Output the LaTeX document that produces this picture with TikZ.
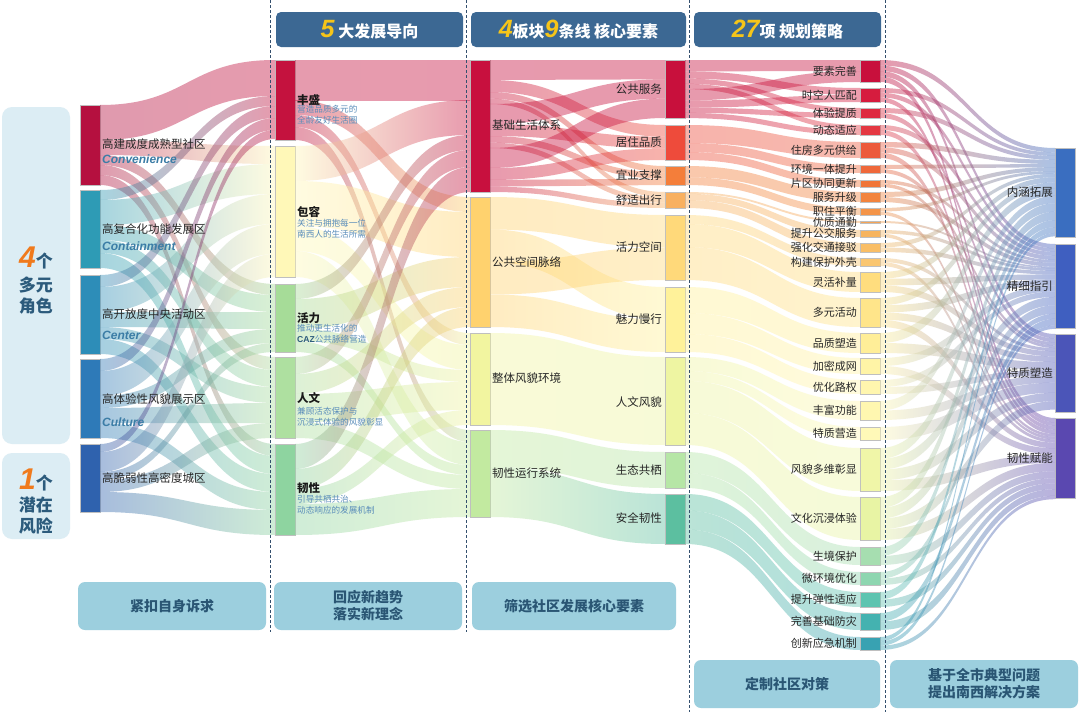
\documentclass[tikz,border=0pt]{standalone}
\usepackage{fontspec}
\setmainfont{Noto Sans CJK SC}
\newfontfamily\latinfont{Liberation Sans}
\usetikzlibrary{calc}

% general colours
\definecolor{headblue}{HTML}{3C6893}
\definecolor{boxblue}{HTML}{DCEDF4}
\definecolor{footblue}{HTML}{9CCFDE}
\definecolor{foottext}{HTML}{2A5674}
\definecolor{numyellow}{HTML}{F6C519}
\definecolor{numorange}{HTML}{F07A1C}
\definecolor{roletext}{HTML}{2C5B7C}
\definecolor{engblue}{HTML}{3C7DA6}
\definecolor{descblue}{HTML}{5A8DBA}
\definecolor{dashcol}{HTML}{34506E}

% roles
\definecolor{cA1}{HTML}{B5103F}
\definecolor{cA2}{HTML}{2E9BB5}
\definecolor{cA3}{HTML}{2D8DB8}
\definecolor{cA4}{HTML}{2E7AB8}
\definecolor{cA5}{HTML}{2F62AE}
% orientations
\definecolor{cB1}{HTML}{C4123E}
\definecolor{cB2}{HTML}{FFF8B8}
\definecolor{cB3}{HTML}{A6DC98}
\definecolor{cB4}{HTML}{AEE0A0}
\definecolor{cB5}{HTML}{8ED4A0}
% blocks
\definecolor{cC1}{HTML}{C8103E}
\definecolor{cC2}{HTML}{FFD26E}
\definecolor{cC3}{HTML}{F2F5A0}
\definecolor{cC4}{HTML}{C2EAA0}
% lines
\definecolor{cD1}{HTML}{C8103C}
\definecolor{cD2}{HTML}{EE4B3B}
\definecolor{cD3}{HTML}{F47E3A}
\definecolor{cD4}{HTML}{F8B060}
\definecolor{cD5}{HTML}{FFD97A}
\definecolor{cD6}{HTML}{FFF29A}
\definecolor{cD7}{HTML}{EEF5A2}
\definecolor{cD8}{HTML}{B6E6A6}
\definecolor{cD9}{HTML}{5CBFA0}
% strategies
\definecolor{cE1}{HTML}{C8103C}
\definecolor{cE2}{HTML}{D61C3E}
\definecolor{cE3}{HTML}{DE2A40}
\definecolor{cE4}{HTML}{E43842}
\definecolor{cE5}{HTML}{EC5A3C}
\definecolor{cE6}{HTML}{EF683A}
\definecolor{cE7}{HTML}{F07538}
\definecolor{cE8}{HTML}{F2843E}
\definecolor{cE9}{HTML}{F49448}
\definecolor{cE10}{HTML}{F5A456}
\definecolor{cE11}{HTML}{F7B45E}
\definecolor{cE12}{HTML}{F9BE66}
\definecolor{cE13}{HTML}{FAC670}
\definecolor{cE14}{HTML}{FFDD7E}
\definecolor{cE15}{HTML}{FFE58A}
\definecolor{cE16}{HTML}{FFEE98}
\definecolor{cE17}{HTML}{FFF4A6}
\definecolor{cE18}{HTML}{FFF6AE}
\definecolor{cE19}{HTML}{FFF7B0}
\definecolor{cE20}{HTML}{FFF9B8}
\definecolor{cE21}{HTML}{F0F6A8}
\definecolor{cE22}{HTML}{E8F4A4}
\definecolor{cE23}{HTML}{A6DEB0}
\definecolor{cE24}{HTML}{8ED6B0}
\definecolor{cE25}{HTML}{5EC4B0}
\definecolor{cE26}{HTML}{44B2B0}
\definecolor{cE27}{HTML}{38A2B2}
% problems
\definecolor{cF1}{HTML}{3A6EC0}
\definecolor{cF2}{HTML}{3F5FC0}
\definecolor{cF3}{HTML}{4B55B8}
\definecolor{cF4}{HTML}{5A48B0}

\newcommand\bignum[1]{{\latinfont\bfseries\itshape\fontsize{25}{25}\selectfont\color{numyellow}#1}}

% band from node #1 to node #2, width #3 at the source and #4 at the target
\newcommand\sflow[4]{%
  \ifcsname so#1\endcsname\else\expandafter\gdef\csname so#1\endcsname{0}\fi
  \ifcsname ti#2\endcsname\else\expandafter\gdef\csname ti#2\endcsname{0}\fi
  \pgfmathsetmacro\wsa{\csname so#1\endcsname}%
  \pgfmathsetmacro\wsb{\wsa+#3}%
  \pgfmathsetmacro\wta{\csname ti#2\endcsname}%
  \pgfmathsetmacro\wtb{\wta+#4}%
  \expandafter\xdef\csname so#1\endcsname{\wsb}%
  \expandafter\xdef\csname ti#2\endcsname{\wtb}%
  \path ([yshift=-\wsa pt]#1.north east) coordinate (p1)
        ([yshift=-\wsb pt]#1.north east) coordinate (p2)
        ([yshift=-\wta pt]#2.north west) coordinate (q1)
        ([yshift=-\wtb pt]#2.north west) coordinate (q2)
        ($(p1)!.5!(q1)$) coordinate (m);
  \shade[left color=c#1, right color=c#2, opacity=.42]
    (p1) .. controls (m |- p1) and (m |- q1) .. (q1) -- (q2)
    .. controls (m |- q2) and (m |- p2) .. (p2) -- cycle;
}

\begin{document}
\begin{tikzpicture}[x=1pt, y=-1pt,
    bar/.style={draw=black!25, line width=.4pt, minimum width=20pt,
        inner sep=0pt, outer sep=0pt, anchor=north west},
    lbl/.style={inner sep=0pt, text=black!85, font=\fontsize{11.5}{13}\selectfont},
    slbl/.style={inner sep=0pt, text=black!85, font=\fontsize{11}{12}\selectfont, anchor=east},
    ttl/.style={inner sep=0pt, anchor=west, text=black!90, font=\bfseries\fontsize{11.5}{13}\selectfont},
    desc/.style={inner sep=0pt, anchor=north west, align=left, text=descblue,
        font=\fontsize{8.6}{11}\selectfont},
    eng/.style={inner sep=0pt, anchor=west, text=engblue,
        font=\latinfont\bfseries\itshape\fontsize{12}{13}\selectfont},
    head/.style={fill=headblue, rounded corners=5pt, minimum height=35pt, inner sep=0pt,
        text=white, font=\bfseries\fontsize{16}{18}\selectfont},
    foot/.style={fill=footblue, rounded corners=7pt, minimum height=48pt, inner sep=0pt,
        align=center, text=foottext, font=\bfseries\fontsize{14}{17}\selectfont},
    rolebox/.style={fill=boxblue, rounded corners=10pt, minimum width=68pt, inner sep=0pt},
    roletxt/.style={inner sep=0pt, align=center, text=roletext,
        font=\bfseries\fontsize{17}{21}\selectfont},
    dashline/.style={dashcol, dashed, dash pattern=on 3pt off 2pt, line width=.8pt}]

\fill[white] (0,0) rectangle (1080,712);
\useasboundingbox (0,0) rectangle (1080,712);

% bars
\foreach \n/\y/\h in {A1/105/80, A2/190/78, A3/275/79, A4/359/79, A5/444/68}
  \node[bar, fill=c\n, minimum height=\h] (\n) at (80,\y) {};
\foreach \n/\y/\h in {B1/60/80, B2/146/131, B3/284/68, B4/357/81, B5/444/91}
  \node[bar, fill=c\n, minimum height=\h] (\n) at (275,\y) {};
\foreach \n/\y/\h in {C1/60/132, C2/197/130, C3/333/92, C4/430/87}
  \node[bar, fill=c\n, minimum height=\h] (\n) at (470,\y) {};
\foreach \n/\y/\h in {D1/60/58, D2/125/35, D3/166/19, D4/192/16, D5/215/65,
    D6/287/65, D7/357/88, D8/452/36, D9/494/50}
  \node[bar, fill=c\n, minimum height=\h] (\n) at (665,\y) {};
\foreach \n/\y/\h in {E1/60/22, E2/88/14, E3/108/10, E4/125/10, E5/142/16, E6/165/8,
    E7/180/7, E8/192/10, E9/208/7, E10/221/2, E11/230/7, E12/243/9, E13/258/8,
    E14/272/20, E15/298/29, E16/333/20, E17/358/16, E18/380/14, E19/401/19,
    E20/427/13, E21/448/43, E22/497/43, E23/547/18, E24/572/13, E25/592/15,
    E26/613/17, E27/637/13}
  \node[bar, fill=c\n, minimum height=\h] (\n) at (860,\y) {};
\foreach \n/\y/\h in {F1/148/89, F2/244/84, F3/334/78, F4/418/80}
  \node[bar, fill=c\n, minimum height=\h] (\n) at (1055,\y) {};

% roles -> orientations
\foreach \sn/\tn/\ws/\wt in {A1/B1/35/36, A1/B2/15/18, A1/B3/10/11, A1/B4/10/13, A1/B5/10/12,
    A2/B1/10/10, A2/B2/25/30, A2/B3/15/17, A2/B4/13/17, A2/B5/15/18,
    A3/B1/12/12, A3/B2/25/30, A3/B3/15/17, A3/B4/12/16, A3/B5/15/18,
    A4/B1/12/12, A4/B2/25/30, A4/B3/12/14, A4/B4/15/20, A4/B5/15/18,
    A5/B1/8/9, A5/B2/20/23, A5/B3/8/9, A5/B4/12/15, A5/B5/20/25}
  {\sflow{\sn}{\tn}{\ws}{\wt}}

% orientations -> blocks
\foreach \sn/\tn/\ws/\wt in {B1/C1/40/40, B1/C2/15/15, B1/C3/12/12, B1/C4/13/12,
    B2/C1/35/35, B2/C2/45/45, B2/C3/25/25, B2/C4/26/23,
    B3/C1/15/15, B3/C2/30/30, B3/C3/12/12, B3/C4/11/10,
    B4/C1/17/17, B4/C2/20/20, B4/C3/28/28, B4/C4/16/14,
    B5/C1/25/25, B5/C2/20/20, B5/C3/15/15, B5/C4/31/28}
  {\sflow{\sn}{\tn}{\ws}{\wt}}

% blocks -> lines
\foreach \k in {1,2,3}
  {\foreach \tn/\ws/\wt in {D1/20/19.33, D2/12/11.67, D3/6.67/6.33, D4/5.33/5.33}
    {\sflow{C1}{\tn}{\ws}{\wt}}}
\foreach \k in {1,2}
  {\foreach \tn/\ws/\wt in {D5/32.5/32.5, D6/32.5/32.5}
    {\sflow{C2}{\tn}{\ws}{\wt}}}
\foreach \sn/\tn/\ws/\wt in {C3/D7/92/88, C4/D8/37/36, C4/D9/50/50}
  {\sflow{\sn}{\tn}{\ws}{\wt}}

% lines -> strategies
\foreach \k in {1,2}
  {\foreach \tn/\ws/\wt in {E1/11.4/11, E2/7.25/7, E3/5.2/5, E4/5.2/5}
    {\sflow{D1}{\tn}{\ws}{\wt}}}
\foreach \sn/\tn/\ws/\wt in {D2/E5/18/16, D2/E6/9/8, D2/E7/8/7,
    D3/E8/11.2/10, D3/E9/7.8/7, D4/E10/1.8/2, D4/E11/6.2/7, D4/E12/8/9,
    D5/E13/9/8, D5/E14/23/20, D5/E15/33/29, D6/E16/26/20, D6/E17/21/16, D6/E18/18/14,
    D7/E19/14/19, D7/E20/10/13, D7/E21/32/43, D7/E22/32/43,
    D8/E23/21/18, D8/E24/15/13, D9/E25/16.5/15, D9/E26/19/17, D9/E27/14.5/13}
  {\sflow{\sn}{\tn}{\ws}{\wt}}

% strategies -> city-wide problems
\foreach \sn/\hh/\nn/\tgts in {E1/22/4/{F1,F2,F3,F4}, E2/14/3/{F1,F2,F4}, E3/10/2/{F1,F3},
    E4/10/2/{F2,F4}, E5/16/3/{F1,F2,F4}, E6/8/2/{F1,F3}, E7/7/2/{F2,F3},
    E8/10/2/{F1,F2}, E9/7/2/{F1,F4}, E10/2/1/{F2}, E11/7/2/{F2,F4},
    E12/9/2/{F1,F2}, E13/8/2/{F3,F4}, E14/20/3/{F1,F2,F3}, E15/29/4/{F1,F2,F3,F4},
    E16/20/2/{F1,F3}, E17/16/2/{F2,F4}, E18/14/2/{F2,F3}, E19/19/2/{F1,F3},
    E20/13/1/{F3}, E21/43/4/{F1,F2,F3,F4}, E22/43/4/{F1,F2,F3,F4},
    E23/18/2/{F1,F4}, E24/13/2/{F2,F4}, E25/15/2/{F1,F4}, E26/17/2/{F2,F4},
    E27/13/3/{F1,F2,F4}}
  {\foreach \tn in \tgts {\sflow{\sn}{\tn}{\hh/\nn}{.78*\hh/\nn}}}

% column separators
\draw[dashline] (270,0) -- (270,632);
\draw[dashline] (466,0) -- (466,632);
\draw[dashline] (689,0) -- (689,712);
\draw[dashline] (885,0) -- (885,712);

% headers
\node[head, minimum width=187pt] (h1) at (369.5,29.5) {\bignum{5}\ 大发展导向};
\node[head, minimum width=215pt] (h2) at (578.5,29.5) {\bignum{4}板块\bignum{9}条线\ 核心要素};
\node[head, minimum width=187pt] (h3) at (787.5,29.5) {\bignum{27}项\ 规划策略};

% role boxes
\node[rolebox, minimum height=337pt] (roles) at (36,275.5) {};
\node[rolebox, minimum height=86pt] (risks) at (36,496) {};
\node[roletxt] (r4) at (36,258) {{\latinfont\itshape\fontsize{30}{30}\selectfont\color{numorange}4}个};
\node[roletxt] (r4b) at (36,296) {多元\\角色};
\node[roletxt] (r1) at (36,480) {{\latinfont\itshape\fontsize{30}{30}\selectfont\color{numorange}1}个};
\node[roletxt] (r1b) at (36,516) {潜在\\风险};

% role labels
\node[lbl, anchor=west] (A1-t) at (102,144) {高建成度成熟型社区};
\node[eng] (A1-e) at (102,159) {Convenience};
\node[lbl, anchor=west] (A2-t) at (102,229) {高复合化功能发展区};
\node[eng] (A2-e) at (102,246) {Containment};
\node[lbl, anchor=west] (A3-t) at (102,314) {高开放度中央活动区};
\node[eng] (A3-e) at (102,335) {Center};
\node[lbl, anchor=west] (A4-t) at (102,399) {高体验性风貌展示区};
\node[eng] (A4-e) at (102,422) {Culture};
\node[lbl, anchor=west] (A5-t) at (102,478) {高脆弱性高密度城区};

% orientation labels
\node[ttl] (B1-t) at (297,100) {丰盛};
\node[desc] (B1-d) at (297,105) {营造品质多元的\\全龄友好生活圈};
\node[ttl] (B2-t) at (297,212) {包容};
\node[desc] (B2-d) at (297,219) {关注与拥抱每一位\\南西人的生活所需};
\node[ttl] (B3-t) at (297,318) {活力};
\node[desc] (B3-d) at (297,324) {推动更生活化的\\{\latinfont\bfseries\color{roletext}CAZ}公共脉络营造};
\node[ttl] (B4-t) at (297,398) {人文};
\node[desc] (B4-d) at (297,407) {兼顾活态保护与\\沉浸式体验的风貌彰显};
\node[ttl] (B5-t) at (297,488) {韧性};
\node[desc] (B5-d) at (297,495) {引导共栖共治、\\动态响应的发展机制};

% block labels
\foreach \n/\y/\t in {C1/125/基础生活体系, C2/262/公共空间脉络, C3/378/整体风貌环境,
    C4/473/韧性运行系统}
  \node[lbl, anchor=west] (\n-t) at (492,\y) {\t};

% line labels
\foreach \n/\y/\t in {D1/89/公共服务, D2/142/居住品质, D3/175/宜业支撑, D4/200/舒适出行,
    D5/247/活力空间, D6/319/魅力慢行, D7/402/人文风貌, D8/470/生态共栖, D9/518/安全韧性}
  \node[lbl, anchor=east] (\n-t) at (662,\y) {\t};

% strategy labels
\foreach \n/\t in {E1/要素完善, E2/时空人匹配, E3/体验提质, E4/动态适应, E5/住房多元供给,
    E6/环境一体提升, E7/片区协同更新, E8/服务升级, E9/职住平衡, E10/优质通勤,
    E11/提升公交服务, E12/强化交通接驳, E13/构建保护外壳, E14/灵活补量, E15/多元活动,
    E16/品质塑造, E17/加密成网, E18/优化路权, E19/丰富功能, E20/特质营造,
    E21/风貌多维彰显, E22/文化沉浸体验, E23/生境保护, E24/微环境优化,
    E25/提升弹性适应, E26/完善基础防灾, E27/创新应急机制}
  \node[slbl] (\n-t) at ([xshift=-3pt]\n.west) {\t};

% problem labels
\foreach \n/\t in {F1/内涵拓展, F2/精细指引, F3/特质塑造, F4/韧性赋能}
  \node[lbl, anchor=east] (\n-t) at ([xshift=-2pt]\n.west) {\t};

% footers
\node[foot, minimum width=188pt] (f1) at (172,606) {紧扣自身诉求};
\node[foot, minimum width=188pt] (f2) at (368,606) {回应新趋势\\落实新理念};
\node[foot, minimum width=204pt] (f3) at (574,606) {筛选社区发展核心要素};
\node[foot, minimum width=186pt] (f4) at (787,684) {定制社区对策};
\node[foot, minimum width=188pt] (f5) at (984,684) {基于全市典型问题\\提出南西解决方案};

\end{tikzpicture}
\end{document}
